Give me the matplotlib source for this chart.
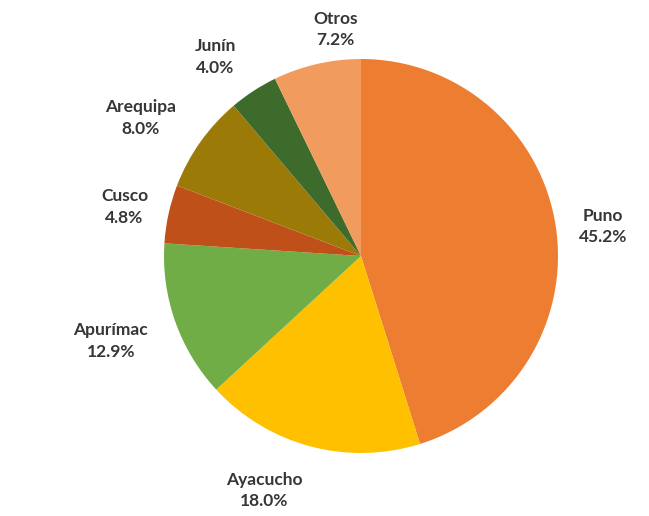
import matplotlib
matplotlib.use("Agg")
import matplotlib.pyplot as plt

# datos
regiones = ["Puno", "Ayacucho", "Apurímac", "Cusco", "Arequipa", "Junín", "Otros"]
valores = [45.2, 18.0, 12.9, 4.8, 8.0, 4.0, 7.2]
colores = ["#ED7D31", "#FFC000", "#70AD47", "#C0501A", "#9C7A08", "#3D6B2B", "#F29B5E"]
# posicion de etiquetas (unidades de radio)
pos_etiq = [(1.23, 0.15), (-0.49, -1.19), (-1.27, -0.43), (-1.20, 0.25),
            (-1.12, 0.70), (-0.74, 1.01), (-0.13, 1.15)]

fig = plt.figure(figsize=(6.49, 5.16), dpi=100)
ax = fig.add_axes([0, 0, 1, 1])

ax.pie(valores, colors=colores, startangle=90, counterclock=False,
       radius=1.0, wedgeprops=dict(linewidth=0))

for reg, val, (x, y) in zip(regiones, valores, pos_etiq):
    ax.text(x, y, reg + "\n" + f"{val:.1f}%", ha="center", va="center",
            fontsize=12.5, fontweight="bold", color="#363636",
            family="Lato", linespacing=1.45)

# escala: radio = 197 px, centro en (361, 256)
ax.set_xlim(-361/197, (649-361)/197)
ax.set_ylim(-260/197, 256/197)
ax.set_aspect("auto")
ax.axis("off")

fig.savefig("out.png", dpi=100)
